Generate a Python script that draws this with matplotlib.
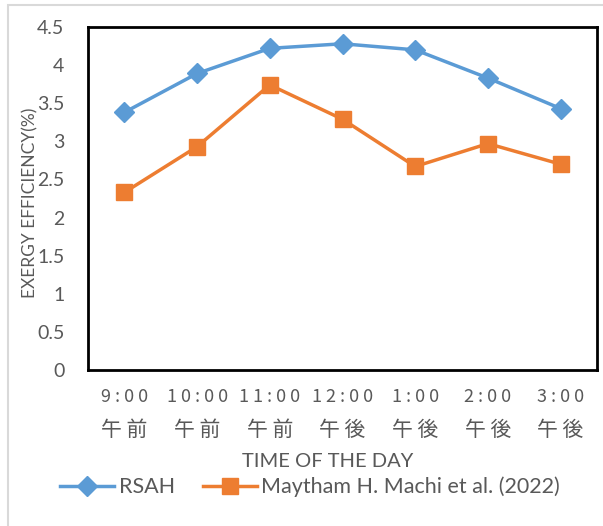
import matplotlib.pyplot as plt
from matplotlib.patches import Rectangle

times = ['9:00', '10:00', '11:00', '12:00', '1:00', '2:00', '3:00']
periods = ['午前', '午前', '午前', '午後', '午後', '午後', '午後']
rsah = [3.38, 3.89, 4.22, 4.28, 4.20, 3.83, 3.43]
machi = [2.33, 2.93, 3.74, 3.29, 2.67, 2.97, 2.70]

plt.rcParams['font.family'] = ['Lato', 'DejaVu Sans']
grey = '#595959'

fig = plt.figure(figsize=(6.03, 5.26), dpi=100)
fig.patches.append(Rectangle((8 / 603, -0.01), 1.0, 1 - 5 / 526 + 0.01,
                             transform=fig.transFigure, fill=False,
                             edgecolor='#d9d9d9', linewidth=1.5))
ax = fig.add_axes([88 / 603, 1 - 370 / 526, (597 - 88) / 603, (370 - 27) / 526])

x = list(range(len(times)))
ax.plot(x, rsah, color='#5b9bd5', linewidth=2.5, marker='D', markersize=10,
        label='RSAH')
ax.plot(x, machi, color='#ed7d31', linewidth=2.5, marker='s', markersize=12,
        label='Maytham H. Machi et al. (2022)')

ax.set_xlim(-0.5, len(times) - 0.5)
ax.set_ylim(0, 4.5)
ax.set_yticks([i * 0.5 for i in range(10)])
ax.set_yticklabels(['0', '0.5', '1', '1.5', '2', '2.5', '3', '3.5', '4', '4.5'],
                   fontsize=14, color=grey)

# two-row category labels: clock time on major ticks, 午前/午後 on minor ticks
ax.xaxis.remove_overlapping_locs = False
ax.set_xticks(x)
ax.set_xticklabels([' '.join(t) for t in times], fontsize=13, color=grey,
                   family=['Noto Sans CJK JP', 'DejaVu Sans'])
ax.set_xticks(x, minor=True)
ax.set_xticklabels([' '.join(p) for p in periods], minor=True, fontsize=15,
                   color=grey, family=['Noto Sans CJK JP', 'DejaVu Sans'])
ax.tick_params(axis='y', length=0, pad=17)
ax.tick_params(axis='x', which='major', length=0, pad=13)
ax.tick_params(axis='x', which='minor', length=0, pad=35)
for s in ax.spines.values():
    s.set_linewidth(2)
    s.set_color('black')

ax.set_xlabel('TIME OF THE DAY', fontsize=14.5, color=grey)
ax.xaxis.set_label_coords(0.47, -0.243)
fig.text(30 / 603, 1 - 203 / 526, 'EXERGY EFFICIENCY(%)', rotation=90,
         ha='center', va='center', fontsize=12.5, color=grey)

ax.legend(loc='center', bbox_to_anchor=(310 / 603, 1 - 487 / 526),
          bbox_transform=fig.transFigure, ncol=2, frameon=False,
          fontsize=15.5, labelcolor=grey, handlelength=2.5, handletextpad=0.2,
          columnspacing=1.3)

fig.savefig('out.png', dpi=100)
